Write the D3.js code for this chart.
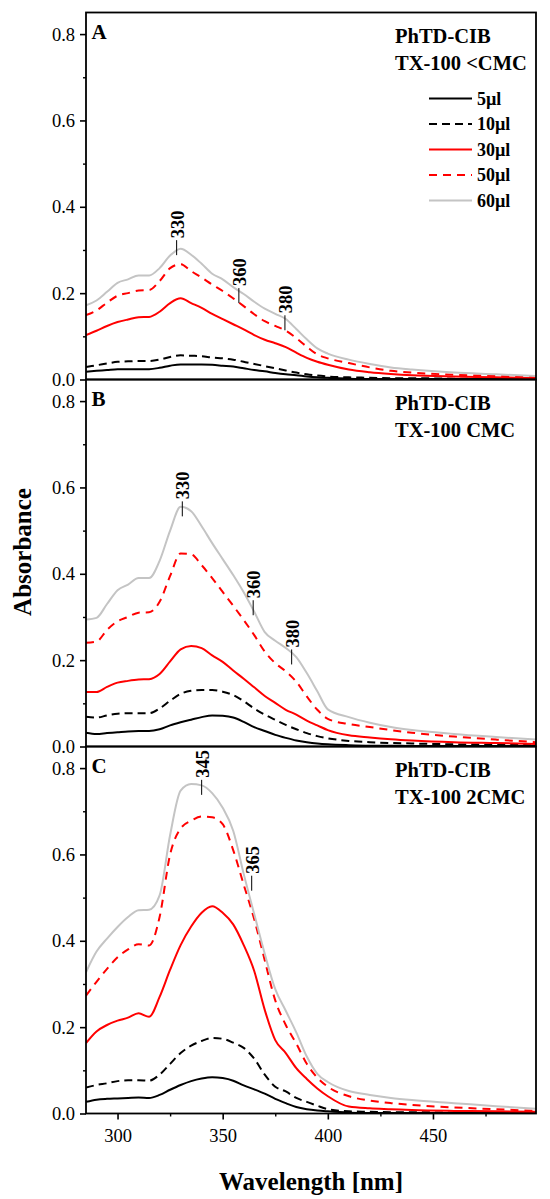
<!DOCTYPE html>
<html><head><meta charset="utf-8">
<script src="https://cdn.jsdelivr.net/npm/d3@7"></script>
<style>body{margin:0;background:#fff}svg{display:block}text{font-family:"Liberation Serif","Times New Roman",serif}</style>
</head><body>
<svg id="chart" width="550" height="1199"></svg>
<script>
// wavelength grid (nm)
const wavelengths = [285,290,295,300,305,310,315,320,325,330,335,340,345,350,355,360,365,370,375,380,385,390,395,400,410,420,430,440,460,480,499];
const seriesNames = ["5\u00b5l","10\u00b5l","30\u00b5l","50\u00b5l","60\u00b5l"];

// Panel A: TX-100 < CMC
const a5  = [.018,.020,.022,.024,.024,.024,.024,.027,.032,.035,.035,.035,.034,.032,.030,.026,.022,.019,.015,.012,.010,.007,.005,.004,.002,.001,.001,.001,.001,.001,.001];
const a10 = [.029,.033,.037,.041,.042,.043,.043,.046,.052,.056,.055,.054,.051,.049,.046,.041,.036,.031,.026,.021,.016,.012,.009,.007,.005,.004,.003,.003,.002,.002,.002];
const a30 = [.103,.113,.124,.133,.139,.144,.145,.157,.177,.188,.177,.166,.152,.140,.128,.116,.103,.092,.084,.075,.062,.050,.041,.034,.023,.017,.013,.010,.007,.005,.003];
const a50 = [.149,.160,.178,.194,.200,.206,.207,.228,.258,.267,.251,.236,.220,.205,.188,.170,.151,.135,.124,.113,.096,.076,.058,.049,.038,.028,.020,.016,.011,.008,.005];
const a60 = [.172,.183,.203,.224,.232,.241,.241,.258,.287,.303,.289,.268,.245,.232,.214,.198,.180,.164,.152,.140,.117,.093,.072,.060,.046,.036,.028,.023,.016,.012,.008];

// Panel B: TX-100 CMC
const b5  = [.032,.029,.031,.033,.035,.036,.036,.040,.049,.056,.062,.068,.072,.071,.067,.057,.045,.036,.027,.020,.014,.010,.007,.005,.003,.002,.002,.001,.001,.001,.001];
const b10 = [.069,.067,.072,.076,.077,.077,.077,.088,.106,.122,.129,.131,.131,.127,.119,.105,.088,.074,.062,.050,.040,.031,.024,.019,.013,.010,.008,.007,.005,.004,.003];
const b30 = [.126,.126,.138,.148,.152,.155,.156,.168,.197,.225,.233,.228,.211,.196,.176,.157,.137,.117,.101,.085,.074,.060,.049,.038,.026,.021,.017,.014,.010,.008,.006];
const b50 = [.240,.243,.270,.290,.300,.310,.311,.335,.395,.447,.445,.420,.390,.358,.326,.293,.258,.220,.193,.174,.150,.116,.085,.064,.052,.045,.038,.032,.023,.016,.010];
const b60 = [.294,.298,.330,.362,.375,.390,.390,.430,.500,.555,.545,.510,.471,.434,.397,.357,.312,.265,.245,.228,.207,.170,.128,.086,.068,.055,.045,.038,.029,.022,.016];

// Panel C: TX-100 2CMC
const c5  = [.027,.032,.034,.035,.036,.037,.036,.043,.055,.066,.075,.081,.084,.082,.076,.065,.056,.046,.034,.024,.015,.010,.007,.005,.002,.001,.001,.001,.001,.001,.001];
const c10 = [.060,.066,.070,.075,.077,.077,.076,.090,.115,.140,.157,.168,.175,.173,.164,.152,.127,.090,.062,.051,.036,.027,.018,.010,.005,.004,.003,.003,.002,.002,.002];
const c30 = [.163,.190,.205,.215,.222,.232,.224,.270,.333,.390,.433,.465,.480,.465,.438,.390,.330,.240,.170,.140,.105,.080,.058,.040,.016,.012,.010,.008,.006,.005,.004];
const c50 = [.273,.305,.335,.362,.380,.392,.389,.455,.600,.660,.678,.688,.686,.670,.610,.530,.450,.355,.262,.205,.162,.115,.083,.062,.040,.030,.024,.020,.014,.010,.006];
const c60 = [.327,.375,.405,.432,.455,.471,.472,.505,.645,.748,.763,.760,.742,.708,.655,.555,.462,.370,.288,.238,.188,.132,.092,.073,.052,.043,.036,.031,.024,.017,.011];

// peak annotations: [label, wavelength, absorbance at leader foot]
const annA = [["330",328.1,.288],["360",357.7,.177],["380",379.6,.114]];
const annB = [["330",330.8,.533],["360",364.5,.304],["380",382.8,.190]];
const annC = [["345",340.0,.738],["365",363.8,.516]];

const panelLetters = ["A","B","C"];
const titleLine1 = ["PhTD-CIB","PhTD-CIB","PhTD-CIB"];
const titleLine2 = ["TX-100 <CMC","TX-100 CMC","TX-100 2CMC"];
const yTicks = [0,0.2,0.4,0.6,0.8];
const yMinor = [0.1,0.3,0.5,0.7];
const xTicks = [300,350,400,450];
const xMinor = [325,375,425,475];

const panelData = [[a5,a10,a30,a50,a60],[b5,b10,b30,b50,b60],[c5,c10,c30,c50,c60]];
const panelAnn = [annA,annB,annC];

const styles = [
  {color:"#000000", dash:null},
  {color:"#000000", dash:"8,5"},
  {color:"#ff0000", dash:null},
  {color:"#ff0000", dash:"8,6"},
  {color:"#c4c4c4", dash:null}
];

const svg = d3.select("#chart");
const left = 86, right = 536, ph = 367;
const tops = [12.5, 379.5, 746.5];
const x = d3.scaleLinear().domain([285,499]).range([left,right]);

panelData.forEach((series, pi) => {
  const top = tops[pi];
  const y = d3.scaleLinear().domain([0,0.85]).range([top+ph, top]);
  const g = svg.append("g");
  const cid = "clip"+pi;
  svg.append("clipPath").attr("id",cid).append("rect").attr("x",left).attr("y",top).attr("width",right-left).attr("height",ph);

  const line = d3.line().x(d=>x(d[0])).y(d=>y(d[1])).curve(d3.curveMonotoneX);
  [0,1,2,3,4].forEach(si => {
    const pts = wavelengths.map((w,i)=>[w, series[si][i]]);
    g.append("path").attr("d", line(pts)).attr("fill","none")
      .attr("stroke", styles[si].color).attr("stroke-width", 2)
      .attr("stroke-dasharray", styles[si].dash)
      .attr("clip-path","url(#"+cid+")");
  });

  // y axis
  const ya = g.append("g").attr("transform",`translate(${left},0)`)
    .call(d3.axisLeft(y).tickValues(yTicks).tickFormat(d3.format(".1f")).tickSize(6).tickPadding(5));
  ya.select(".domain").remove();
  ya.selectAll("line").attr("stroke-width",1.6);
  ya.selectAll("text").attr("font-size",18.5).attr("font-family","Liberation Serif").attr("fill","#000");
  const ym = g.append("g").attr("transform",`translate(${left},0)`)
    .call(d3.axisLeft(y).tickValues(yMinor).tickFormat("").tickSize(3));
  ym.select(".domain").remove();
  ym.selectAll("line").attr("stroke-width",1.4);

  // frame
  g.append("rect").attr("x",left).attr("y",top).attr("width",right-left).attr("height",ph)
    .attr("fill","none").attr("stroke","#000").attr("stroke-width",1.8);

  // panel letter
  g.append("text").attr("x",left+5.5).attr("y",top+26).text(panelLetters[pi])
    .attr("font-size",21).attr("font-weight","bold");
  // titles
  g.append("text").attr("x",395).attr("y",top+30.5).text(titleLine1[pi])
    .attr("font-size",20.5).attr("font-weight","bold");
  g.append("text").attr("x",395).attr("y",top+57).text(titleLine2[pi])
    .attr("font-size",20.5).attr("font-weight","bold");

  // annotations
  panelAnn[pi].forEach(a => {
    const ax = x(a[1]), ay = y(a[2]);
    g.append("line").attr("x1",ax).attr("x2",ax).attr("y1",ay).attr("y2",ay-15)
      .attr("stroke","#000").attr("stroke-width",1);
    g.append("text").attr("transform",`translate(${ax+1},${ay-17}) rotate(-90)`)
      .attr("dominant-baseline","central").attr("text-anchor","start")
      .attr("font-size",18.5).attr("font-weight","bold").text(a[0]);
  });

  if (pi === 2) {
    const xa = g.append("g").attr("transform",`translate(0,${top+ph})`)
      .call(d3.axisBottom(x).tickValues(xTicks).tickFormat(d3.format("d")).tickSize(6).tickPadding(9));
    xa.select(".domain").remove();
    xa.selectAll("line").attr("stroke-width",1.6);
    xa.selectAll("text").attr("font-size",18.5).attr("font-family","Liberation Serif").attr("fill","#000");
    const xm = g.append("g").attr("transform",`translate(0,${top+ph})`)
      .call(d3.axisBottom(x).tickValues(xMinor).tickFormat("").tickSize(3));
    xm.select(".domain").remove();
    xm.selectAll("line").attr("stroke-width",1.4);
  }

  if (pi === 0) {
    const lg = g.append("g");
    seriesNames.forEach((name, si) => {
      const ly = top + 86 + si*25.5;
      lg.append("line").attr("x1",429).attr("x2",472).attr("y1",ly).attr("y2",ly)
        .attr("stroke",styles[si].color).attr("stroke-width",2).attr("stroke-dasharray",styles[si].dash);
      lg.append("text").attr("x",477).attr("y",ly).attr("dominant-baseline","central")
        .attr("font-size",18).attr("font-weight","bold").text(name);
    });
  }
});

// axis titles
svg.append("text").attr("transform","translate(22,552) rotate(-90)")
  .attr("text-anchor","middle").attr("dominant-baseline","central")
  .attr("font-size",25).attr("font-weight","bold").text("Absorbance");
svg.append("text").attr("x",(left+right)/2).attr("y",1190)
  .attr("text-anchor","middle").attr("font-size",25).attr("font-weight","bold").text("Wavelength [nm]");
</script>
</body></html>
